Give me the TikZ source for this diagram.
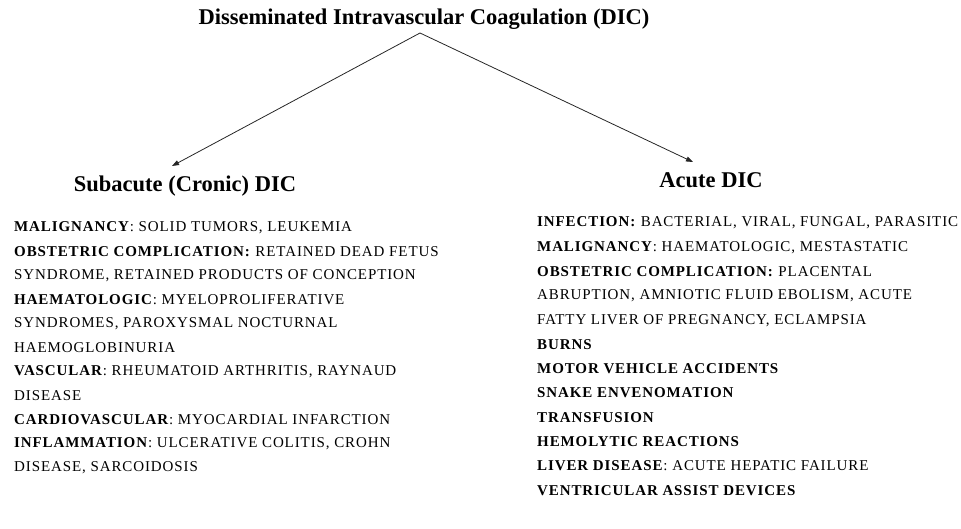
\documentclass[tikz,border=0pt]{standalone}
\usepackage{fontspec}
\setmainfont{Liberation Serif}
\newfontfamily\bodyfont[LetterSpace=6]{Liberation Serif}
\usetikzlibrary{arrows.meta}
\tikzset{
  head/.style={font=\fontsize{22.5}{24}\selectfont\bfseries, inner sep=0pt},
  item/.style={font=\fontsize{15}{16}\bodyfont, anchor=west, inner sep=0pt},
  link/.style={line width=0.8pt, draw=black!85, -{Triangle[length=7pt,width=5pt]}}
}
\newcommand{\bb}[1]{\textbf{#1}}
\begin{document}
\begin{tikzpicture}[x=1pt,y=-1pt]
\useasboundingbox (0,0) rectangle (961,529);
\node[head] (title) at (424,19) {Disseminated Intravascular Coagulation (DIC)};
\coordinate (apex) at (420,33);
\node[head] (sub) at (185,186) {Subacute (Cronic) DIC};
\node[head] (acu) at (711,180) {Acute DIC};
\coordinate (tipL) at (172,166);
\coordinate (tipR) at (693,162);
\draw[link] (apex) -- (tipL);
\draw[link] (apex) -- (tipR);
% left column
\node[item] (l1) at (14,228) {\bb{MALIGNANCY}: SOLID TUMORS, LEUKEMIA};
\node[item] (l2) at (14,252) {\bb{OBSTETRIC COMPLICATION:} RETAINED DEAD FETUS};
\node[item] (l3) at (14,276) {SYNDROME, RETAINED PRODUCTS OF CONCEPTION};
\node[item] (l4) at (14,300) {\bb{HAEMATOLOGIC}: MYELOPROLIFERATIVE};
\node[item] (l5) at (14,324) {SYNDROMES, PAROXYSMAL NOCTURNAL};
\node[item] (l6) at (14,348) {HAEMOGLOBINURIA};
\node[item] (l7) at (14,372) {\bb{VASCULAR}: RHEUMATOID ARTHRITIS, RAYNAUD};
\node[item] (l8) at (14,396) {DISEASE};
\node[item] (l9) at (14,420) {\bb{CARDIOVASCULAR}: MYOCARDIAL INFARCTION};
\node[item] (l10) at (14,444) {\bb{INFLAMMATION}: ULCERATIVE COLITIS, CROHN};
\node[item] (l11) at (14,468) {DISEASE, SARCOIDOSIS};
% right column
\node[item] (r1) at (537,223) {\bb{INFECTION:} BACTERIAL, VIRAL, FUNGAL, PARASITIC};
\node[item] (r2) at (537,247.3) {\bb{MALIGNANCY}: HAEMATOLOGIC, MESTASTATIC};
\node[item] (r3) at (537,271.6) {\bb{OBSTETRIC COMPLICATION:} PLACENTAL};
\node[item] (r4) at (537,295.9) {ABRUPTION, AMNIOTIC FLUID EBOLISM, ACUTE};
\node[item] (r5) at (537,320.2) {FATTY LIVER OF PREGNANCY, ECLAMPSIA};
\node[item] (r6) at (537,344.5) {\bb{BURNS}};
\node[item] (r7) at (537,368.8) {\bb{MOTOR VEHICLE ACCIDENTS}};
\node[item] (r8) at (537,393.1) {\bb{SNAKE ENVENOMATION}};
\node[item] (r9) at (537,417.4) {\bb{TRANSFUSION}};
\node[item] (r10) at (537,441.7) {\bb{HEMOLYTIC REACTIONS}};
\node[item] (r11) at (537,466) {\bb{LIVER DISEASE}: ACUTE HEPATIC FAILURE};
\node[item] (r12) at (537,490.3) {\bb{VENTRICULAR ASSIST DEVICES}};
\end{tikzpicture}
\end{document}
